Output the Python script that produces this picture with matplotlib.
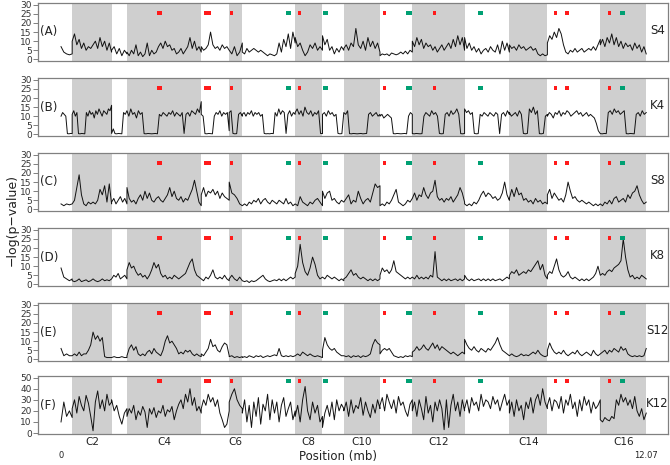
import numpy as np
import matplotlib
matplotlib.use("Agg")
import matplotlib.pyplot as plt

# Longitudes de los cromosomas (Mb), genoma total 12.07 Mb
chrom_len = [0.230, 0.813, 0.317, 1.532, 0.577, 0.270, 1.091, 0.563,
             0.440, 0.746, 0.667, 1.078, 0.924, 0.784, 1.091, 0.948]
chrom_names = ["C%d" % (i + 1) for i in range(16)]

# Marcas (centro en Mb, ancho en Mb)
red_pos = [2.03, 3.02, 3.52, 4.92, 6.67, 7.70, 10.20, 10.44, 11.31]
red_w = [0.11, 0.16, 0.05, 0.07, 0.07, 0.07, 0.07, 0.07, 0.05]
green_pos = [4.69, 5.46, 7.18, 8.65, 11.58]
green_w = [0.11, 0.11, 0.11, 0.11, 0.11]

# Valores -log(p) por cromosoma
s4 = [
    [7, 4, 3, 2.5, 3],
    [10, 14, 8, 11, 6, 9, 5, 7, 6, 8, 10, 6, 12, 7, 10, 5, 9, 4],
    [5, 7, 3, 6, 2, 5, 3],
    [4, 2, 5, 3, 8, 2, 4, 1.5, 3, 9, 2, 5, 3, 4, 7, 9, 6, 10, 7, 8,
     5, 6, 3, 4, 6, 3, 5, 7, 12, 6, 10, 5, 7, 4],
    [7, 5, 6, 8, 15, 8, 6, 7, 5, 8, 6, 7, 5],
    [5, 3, 7, 2, 4, 9],
    [4, 3, 6, 4, 5, 6, 5, 4, 5, 4, 3, 2, 3, 2.5, 2, 3, 9, 4, 11, 7, 14, 6, 15, 9],
    [12, 7, 9, 5, 2, 4, 8, 6, 9, 5, 7, 5],
    [13, 8, 11, 5, 7, 3, 6, 4, 7, 5],
    [6, 8, 5, 9, 7, 17, 8, 6, 10, 5, 12, 7, 10, 6, 9, 4],
    [2, 3, 2.5, 3, 2, 3.5, 3, 2.5, 3, 4, 3, 4.5, 3, 5, 4],
    [10, 7, 12, 8, 11, 6, 9, 7, 8, 5, 7, 4, 6, 8, 5, 7, 9, 6, 11, 7, 13, 8, 12, 5],
    [12, 6, 9, 5, 7, 4, 6, 3, 5, 6, 4, 7, 5, 4, 8, 3, 10, 5, 9, 4],
    [8, 6, 7, 5, 8, 6, 7, 5, 6, 7, 5, 6, 3, 2, 3, 2, 2.5],
    [9, 13, 11, 15, 12, 17, 14, 8, 4, 3, 5, 4, 6, 4, 5, 6, 4, 5, 6, 5, 7, 5, 8, 11],
    [8, 11, 7, 12, 9, 14, 8, 12, 7, 10, 6, 9, 7, 8, 5, 9, 6, 8, 4, 7, 3],
]

k4 = [
    [10, 12, 11, 10, 0.4, 0.3, 0.5, 0.4],
    [11, 13, 10, 12, 0.4, 0.3, 0.5, 0.4, 0.3, 12, 10, 13, 11, 12, 9, 13, 11, 14,
     12, 10, 13, 12, 11, 14, 13, 16],
    [0.5, 3, 0.4, 0.3, 0.5, 0.4, 0.3, 12, 11, 13],
    [13, 10, 14, 11, 12, 9, 13, 11, 12, 0.4, 0.3, 0.5, 0.4, 0.3, 0.4, 0.5, 0.3,
     11, 10, 12, 11, 10, 12, 11, 13, 10, 12, 11, 10, 12, 0.5,
     11, 12, 10, 13, 12, 11, 14, 12, 18],
    [11, 10, 0.4, 0.3, 0.5, 0.4, 0.3, 10, 12, 11, 13, 10, 12, 11, 12, 2],
    [12, 13, 0.5, 0.3, 0.4, 11, 12, 10],
    [11, 12, 10, 12, 11, 13, 10, 12, 11, 12, 10, 11, 0.5, 0.3, 0.4, 0.3, 0.5, 0.4,
     12, 10, 14, 11, 13, 12, 0.5, 11, 13, 10, 12, 11],
    [12, 14, 11, 13, 10, 15, 12, 11, 13, 10, 12, 11, 13, 0.5, 0.4],
    [11, 12, 10, 13, 11, 12, 10, 11, 0.5, 0.3, 0.4, 12],
    [12, 11, 13, 0.4, 0.3, 0.5, 0.4, 0.3, 0.4, 0.5, 0.3, 0.4, 0.5, 11, 12, 10, 11, 12, 10, 11],
    [10, 11, 9, 10, 11, 10, 9, 0.4, 0.3, 0.5, 0.4, 0.3, 0.4, 0.5, 0.3, 10, 12, 11],
    [0.4, 0.3, 0.5, 0.4, 0.3, 0.4, 10, 12, 11, 10, 13, 11, 12, 10, 0.5, 0.3, 0.4,
     11, 12, 10, 13, 11, 12, 14, 11, 0.4, 0.3, 0.5],
    [14, 12, 13, 11, 12, 0.5, 0.3, 0.4, 11, 10, 12, 11, 10, 12, 11, 10, 12, 11,
     0.4, 11, 12, 10, 13, 11],
    [12, 10, 11, 12, 10, 13, 11, 0.5, 0.3, 0.5, 14, 12, 15, 11, 13, 0.4, 0.3, 0.5, 10, 11],
    [10, 12, 11, 9, 12, 11, 13, 10, 12, 11, 13, 12, 10, 11, 12, 13, 11, 12, 10, 11,
     12, 10, 11, 10, 9, 6, 2, 0.5],
    [0.4, 0.3, 0.5, 0.4, 12, 13, 11, 14, 12, 13, 11, 12, 13, 0.4, 0.3, 0.5, 0.4, 0.3,
     11, 12, 10, 13, 11, 12],
]

s8 = [
    [3, 2, 3, 2.5, 3],
    [3, 5, 12, 19, 8, 3, 2, 4, 3, 4, 3, 5, 11, 8, 13, 4, 14, 3],
    [4, 6, 3, 5, 7, 4, 6, 3],
    [12, 6, 4, 5, 3, 6, 8, 5, 10, 6, 9, 5, 4, 6, 7, 5, 4, 6, 8, 12,
     7, 10, 6, 5, 7, 4, 6, 5, 8, 11, 16, 10, 4, 2],
    [8, 12, 7, 10, 9, 11, 8, 10, 6, 9, 7, 6, 5],
    [15, 9, 8, 6, 3, 2],
    [2, 3, 2, 4, 3, 5, 4, 6, 3, 5, 6, 4, 3, 5, 4, 3, 5, 4, 3, 6, 3, 4, 2, 3],
    [3, 2, 7, 4, 3, 2, 4, 3, 5, 6, 4, 2],
    [10, 6, 9, 10, 5, 6, 4, 3, 5, 4],
    [4, 6, 8, 3, 5, 4, 10, 6, 3, 5, 6, 4, 9, 14, 12, 13],
    [2, 3, 2, 4, 3, 5, 8, 11, 4, 3, 2, 3, 5, 4, 6],
    [6, 9, 5, 8, 7, 12, 8, 6, 9, 10, 16, 7, 5, 6, 4, 6, 5, 7, 4, 6, 8, 12, 9, 4],
    [3, 2, 3, 2, 4, 3, 5, 8, 10, 7, 9, 8, 6, 7, 5, 6, 9, 15, 8, 5],
    [6, 11, 7, 12, 8, 9, 5, 6, 4, 5, 3, 6, 4, 5, 3, 4, 3],
    [8, 11, 6, 9, 7, 5, 6, 4, 8, 15, 10, 6, 7, 5, 4, 5, 4, 3, 4, 3, 2, 3, 2, 3],
    [3, 2, 4, 3, 5, 3, 6, 7, 4, 5, 6, 4, 8, 6, 9, 10, 13, 8, 5, 3, 4],
]

k8 = [
    [9, 4, 3, 2, 3],
    [2, 1.5, 2, 3, 1.5, 2, 2.5, 1.5, 2, 3, 2, 1.5, 2, 3, 2, 2.5, 2, 3],
    [3, 5, 4, 6, 3, 4, 5, 3],
    [8, 12, 9, 10, 7, 5, 6, 4, 5, 3, 5, 8, 12, 9, 11, 6, 4, 5, 3, 4,
     3, 5, 4, 3, 4, 5, 6, 9, 12, 14, 8, 5, 4, 3],
    [3, 2, 4, 3, 5, 8, 4, 3, 4, 3, 5, 3, 2],
    [3, 5, 3, 2, 4, 2],
    [2, 1.5, 2, 1, 2, 1.5, 2, 3, 4, 5, 3, 2, 1.5, 2, 2.5, 2, 3, 2, 3, 2, 3, 4, 3, 4],
    [6, 10, 22, 12, 7, 5, 9, 15, 11, 5, 3, 4],
    [4, 3, 5, 4, 3, 4, 3, 2, 3, 2],
    [3, 4, 6, 8, 5, 6, 4, 3, 4, 3, 2, 3, 2, 3, 2, 3],
    [5, 9, 7, 8, 6, 8, 13, 7, 6, 5, 4, 3, 4, 3, 4],
    [4, 3, 5, 3, 4, 3, 4, 3, 5, 4, 18, 4, 3, 2, 3, 2, 3, 2, 2.5, 3, 2, 3, 2, 3],
    [5, 3, 2, 3, 2, 2.5, 3, 2, 3, 2, 3, 2, 3, 2, 2.5, 3, 2, 3, 4, 3],
    [5, 7, 6, 8, 5, 6, 7, 6, 8, 7, 9, 11, 13, 8, 11, 5, 3],
    [5, 7, 6, 10, 14, 8, 5, 4, 5, 7, 4, 3, 4, 3, 2, 3, 2, 3, 2, 3, 4, 6, 10, 5],
    [5, 6, 5, 7, 8, 7, 9, 10, 11, 13, 25, 15, 8, 4, 5, 3, 4, 3, 5, 4, 3],
]

s12 = [
    [6, 2, 3, 2, 2],
    [2, 3, 2, 4, 2, 3, 3, 5, 8, 15, 11, 13, 10, 12, 1.5, 1, 1, 1],
    [1, 1.5, 1, 1, 1.5, 1, 1],
    [2, 6, 8, 5, 7, 3, 2, 3, 2, 4, 5, 3, 6, 4, 3, 2, 5, 10, 13, 9,
     10, 8, 6, 3, 4, 3, 5, 4, 5, 3, 2, 3, 2, 1.5],
    [3, 2, 4, 6, 11, 7, 8, 5, 4, 7, 9, 8, 2],
    [1.5, 2, 1, 1.5, 1, 1.5],
    [1, 1.5, 1, 2, 1.5, 1, 2, 1.5, 2, 1, 1.5, 2, 1.5, 2, 2.5, 2, 6, 2, 1.5, 2, 1.5, 2, 1.5, 2],
    [2, 3, 2, 4, 3, 2, 3, 2, 1.5, 2, 1.5, 1],
    [5, 12, 8, 6, 5, 6, 4, 3, 2, 2],
    [2, 1.5, 2, 1, 2, 1.5, 2, 1, 2, 1.5, 2, 3, 8, 11, 9, 8],
    [3, 5, 6, 5, 6, 4, 2, 1.5, 1, 1.5, 1, 2, 1.5, 2, 1.5],
    [4, 5, 7, 5, 6, 8, 6, 5, 7, 9, 6, 8, 5, 7, 6, 5, 4, 3, 4, 3, 2, 3, 4, 3],
    [11, 8, 6, 5, 7, 5, 4, 6, 5, 4, 6, 5, 7, 9, 12, 8, 5, 4, 3, 2],
    [2, 3, 2, 1.5, 2, 3, 2, 2.5, 2, 3, 4, 3, 5, 3, 2, 1.5, 2],
    [5, 9, 6, 4, 3, 4, 3, 5, 3, 2, 3, 4, 3, 5, 3, 2, 3, 4, 3, 2, 5, 3, 2, 3],
    [3, 4, 5, 3, 5, 4, 6, 5, 4, 7, 5, 6, 3, 2, 1.5, 2, 1.5, 2, 1.5, 2, 6],
]

k12 = [
    [10, 28, 15, 20, 14],
    [22, 30, 18, 33, 25, 20, 34, 27, 15, 2, 28, 38, 22, 30, 20, 35, 25, 28],
    [30, 20, 25, 15, 8, 18, 22],
    [15, 22, 18, 25, 12, 20, 16, 24, 19, 5, 22, 17, 23, 14, 20, 18, 25, 15, 21, 19,
     24, 12, 20, 26, 30, 22, 35, 28, 40, 25, 32, 20, 24, 18],
    [22, 30, 25, 35, 28, 32, 24, 30, 18, 12, 5, 8, 20],
    [28, 35, 40, 30, 25, 22],
    [18, 30, 10, 25, 5, 28, 15, 32, 8, 26, 20, 35, 12, 30, 18, 28, 10, 25, 32, 15, 22, 28, 12, 20],
    [15, 25, 10, 30, 42, 20, 12, 28, 18, 25, 10, 15],
    [5, 18, 25, 15, 28, 12, 30, 20, 26, 22],
    [20, 28, 15, 30, 18, 25, 22, 32, 16, 28, 20, 14, 26, 18, 30, 22],
    [25, 32, 20, 35, 28, 22, 30, 18, 33, 25, 28, 20, 15, 26, 30],
    [20, 28, 15, 30, 22, 12, 33, 18, 25, 10, 28, 20, 30, 22, 3, 30, 5, 25, 35, 20, 28, 15, 30, 20],
    [22, 30, 18, 32, 25, 28, 20, 35, 24, 30, 28, 22, 33, 26, 30, 20, 28, 35, 25, 30],
    [18, 28, 15, 30, 20, 25, 12, 28, 22, 32, 18, 30, 35, 25, 40, 28, 22],
    [25, 32, 20, 30, 28, 22, 33, 18, 30, 25, 35, 22, 28, 15, 30, 20, 33, 25, 30, 18, 28, 22, 25, 30],
    [12, 10, 14, 12, 11, 15, 13, 30, 25, 35, 28, 32, 25, 30, 22, 33, 20, 15, 22, 12, 18],
]

panels = [("(A)", "S4", s4), ("(B)", "K4", k4), ("(C)", "S8", s8),
          ("(D)", "K8", k8), ("(E)", "S12", s12), ("(F)", "K12", k12)]

starts = np.concatenate([[0], np.cumsum(chrom_len)[:-1]])
ends = np.cumsum(chrom_len)
centers = (starts + ends) / 2

W, H = 670, 465
fig = plt.figure(figsize=(6.7, 4.65), dpi=100)
tops = [3, 78, 153, 228, 303, 376]
ph = 58
frame_col = "#808080"

for i, (lab, name, vals) in enumerate(panels):
    ax = fig.add_axes([38 / W, 1 - (tops[i] + ph) / H, 630 / W, ph / H])
    big = name == "K12"
    ymax = 51.5 if big else 31
    ax.set_xlim(-0.475, 12.52)
    ax.set_ylim(-0.9, ymax)

    for c in range(1, 16, 2):
        ax.axvspan(starts[c], ends[c], color="#cfcfcf", lw=0, zorder=0)

    xs, ys = [], []
    for c in range(16):
        v = vals[c]
        xs.append(np.linspace(starts[c], ends[c], len(v)))
        ys.append(v)
    ax.plot(np.concatenate(xs), np.concatenate(ys), color="#111111", lw=0.7, zorder=2)

    mh = 3.4 if big else 2.0
    my = 45.2 if big else 24.5
    ax.bar(red_pos, mh, width=red_w, bottom=my, color="#ff1a1a", lw=0, zorder=3)
    ax.bar(green_pos, mh, width=green_w, bottom=my, color="#00a073", lw=0, zorder=3)

    ax.set_yticks(range(0, 51, 10) if big else range(0, 31, 5))
    ax.tick_params(axis="y", labelsize=6.5, length=3.5, width=0.7, pad=1,
                   colors=frame_col, labelcolor="#333333")
    if i == 5:
        ax.set_xticks(centers[1::2])
        ax.set_xticklabels(chrom_names[1::2])
        ax.tick_params(axis="x", labelsize=7.5, length=0, pad=2, labelcolor="#222222")
    else:
        ax.set_xticks([])
    for sp in ax.spines.values():
        sp.set_color(frame_col)
        sp.set_linewidth(0.9)

    ax.text(0.003, 0.5, lab, transform=ax.transAxes, ha="left", va="center",
            fontsize=8.5, color="#222222")
    ax.text(12.30, ymax * 0.52, name, ha="center", va="center",
            fontsize=8.5, color="#222222")

fig.text(12 / W, 1 - 220 / H, "\u2212log(p\u2212value)", rotation=90,
         ha="center", va="center", fontsize=9, color="#222222")
fig.text(338 / W, 1 - 456 / H, "Position (mb)", ha="center", va="center",
         fontsize=8.5, color="#222222")
fig.text(61 / W, 1 - 455 / H, "0", ha="center", va="center", fontsize=6, color="#222222")
fig.text(646 / W, 1 - 455 / H, "12.07", ha="center", va="center", fontsize=6, color="#222222")

fig.savefig("out.png", dpi=100)
